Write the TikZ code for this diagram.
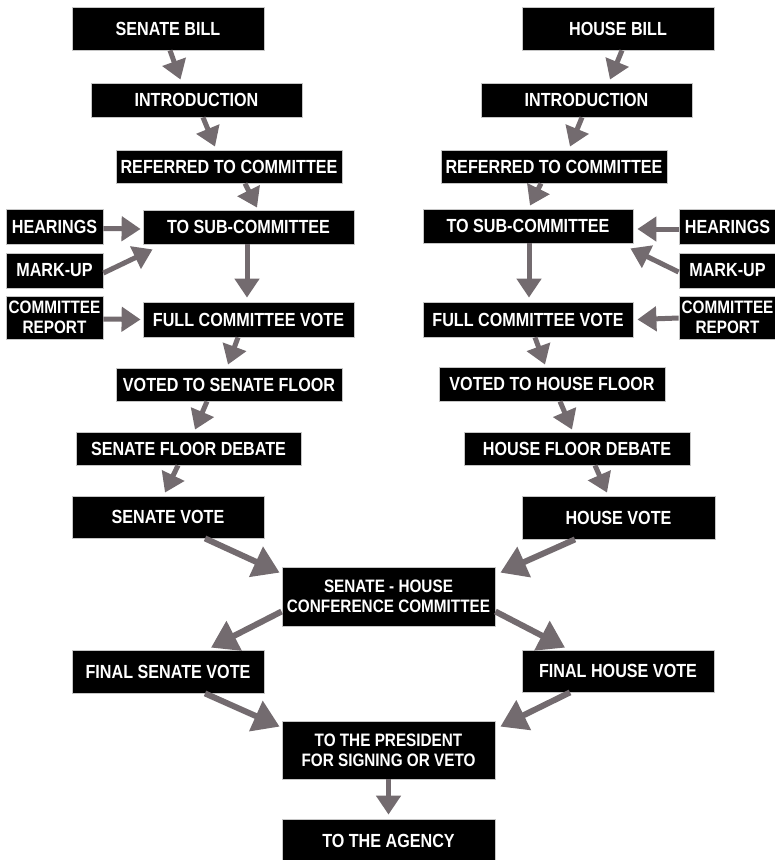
\documentclass[tikz,border=0pt]{standalone}
\usepackage{fontspec}
\setmainfont{Liberation Sans}[FakeStretch=0.85]
\usetikzlibrary{arrows.meta}
\definecolor{arrgray}{RGB}{115,107,111}
\tikzset{
  stage/.style={fill=black, draw=gray!45, line width=0.8pt, text=white, inner sep=0pt, align=center,
    font=\bfseries\fontsize{19}{20}\selectfont},
  twoline/.style={font=\bfseries\fontsize{18}{20}\selectfont},
  arr/.style={draw=arrgray, line width=5pt, -{Triangle[width=24pt,length=19pt]}},
  bigarr/.style={draw=arrgray, line width=6pt, -{Triangle[width=32pt,length=26pt]}},
}
\begin{document}
\begin{tikzpicture}[x=1pt,y=-1pt]
  \useasboundingbox (0,0) rectangle (775,860);

  % senate side
  \node[stage, minimum width=192, minimum height=43] (sbill) at (168,28.5) {SENATE BILL};
  \node[stage, minimum width=211, minimum height=34] (sintro) at (196.5,100) {INTRODUCTION};
  \node[stage, minimum width=226, minimum height=33] (sref) at (229,166.5) {REFERRED TO COMMITTEE};
  \node[stage, minimum width=211, minimum height=34] (ssub) at (248.5,227) {TO SUB-COMMITTEE};
  \node[stage, minimum width=97, minimum height=35] (shear) at (54.5,226.5) {HEARINGS};
  \node[stage, minimum width=97, minimum height=35] (smark) at (54.5,270.5) {MARK-UP};
  \node[stage, twoline, minimum width=97, minimum height=43] (srep) at (54.5,317.5) {COMMITTEE\\REPORT};
  \node[stage, minimum width=211, minimum height=35] (sfull) at (248.5,319.5) {FULL COMMITTEE VOTE};
  \node[stage, minimum width=226, minimum height=33] (sfloor) at (229,384.5) {VOTED TO SENATE FLOOR};
  \node[stage, minimum width=225, minimum height=33] (sdebate) at (188.5,448.5) {SENATE FLOOR DEBATE};
  \node[stage, minimum width=192, minimum height=42] (svote) at (168,517) {SENATE VOTE};
  \node[stage, minimum width=192, minimum height=43] (sfinal) at (168,671.5) {FINAL SENATE VOTE};

  % house side
  \node[stage, minimum width=192, minimum height=43] (hbill) at (618,28.5) {HOUSE BILL};
  \node[stage, minimum width=211, minimum height=34] (hintro) at (586.5,100) {INTRODUCTION};
  \node[stage, minimum width=226, minimum height=33] (href) at (554,166.5) {REFERRED TO COMMITTEE};
  \node[stage, minimum width=210, minimum height=34] (hsub) at (528,226) {TO SUB-COMMITTEE};
  \node[stage, minimum width=97, minimum height=35] (hhear) at (727.5,226.5) {HEARINGS};
  \node[stage, minimum width=97, minimum height=35] (hmark) at (727.5,270.5) {MARK-UP};
  \node[stage, twoline, minimum width=97, minimum height=43] (hrep) at (727.5,317.5) {COMMITTEE\\REPORT};
  \node[stage, minimum width=210, minimum height=35] (hfull) at (528,319.5) {FULL COMMITTEE VOTE};
  \node[stage, minimum width=226, minimum height=34] (hfloor) at (552,384) {VOTED TO HOUSE FLOOR};
  \node[stage, minimum width=226, minimum height=33] (hdebate) at (577,448.5) {HOUSE FLOOR DEBATE};
  \node[stage, minimum width=193, minimum height=43] (hvote) at (618.5,517.5) {HOUSE VOTE};
  \node[stage, minimum width=192, minimum height=42] (hfinal) at (618,671) {FINAL HOUSE VOTE};

  % joint
  \node[stage, twoline, minimum width=213, minimum height=59] (conf) at (388.5,596.5) {SENATE - HOUSE\\CONFERENCE COMMITTEE};
  \node[stage, twoline, minimum width=213, minimum height=58] (pres) at (388.5,750) {TO THE PRESIDENT\\FOR SIGNING OR VETO};
  \node[stage, minimum width=213, minimum height=43] (agency) at (388.5,840.5) {TO THE AGENCY};

  \draw[arr] ([xshift=2]sbill.south) -- ([xshift=-16,yshift=3]sintro.north);
  \draw[arr] ([xshift=6.5]sintro.south) -- ([xshift=-14,yshift=3]sref.north);
  \draw[arr] ([xshift=16]sref.south) -- ([xshift=8.5,yshift=2]ssub.north);
  \draw[arr] ([yshift=-2]shear.east) -- ([xshift=-2,yshift=-2]ssub.west);
  \draw[arr] ([yshift=-2.5]smark.east) -- ([xshift=10,yshift=-5]ssub.south west);
  \draw[arr] ([xshift=-1.5]ssub.south) -- ([xshift=-1.5,yshift=4]sfull.north);
  \draw[arr] ([yshift=-1.5]srep.east) -- ([xshift=-2]sfull.west);
  \draw[arr] ([xshift=-10.5]sfull.south) -- ([xshift=-1,yshift=3]sfloor.north);
  \draw[arr] ([xshift=-22]sfloor.south) -- ([xshift=6.5,yshift=2]sdebate.north);
  \draw[arr] ([xshift=-10.5]sdebate.south) -- ([xshift=-3,yshift=3]svote.north);
  \draw[bigarr] ([xshift=37]svote.south) -- ([xshift=-2,yshift=-6]conf.north west);
  \draw[bigarr] ([yshift=-15]conf.west) -- ([xshift=43,yshift=2]sfinal.north);
  \draw[bigarr] ([xshift=37]sfinal.south) -- ([xshift=-2,yshift=-6]pres.north west);

  \draw[arr] ([xshift=4]hbill.south) -- ([xshift=23.5,yshift=3]hintro.north);
  \draw[arr] ([xshift=-4.5]hintro.south) -- ([xshift=16,yshift=3]href.north);
  \draw[arr] ([xshift=-13]href.south) -- ([xshift=2,yshift=3]hsub.north);
  \draw[arr] ([yshift=-2.5]hhear.west) -- ([xshift=4,yshift=-3]hsub.east);
  \draw[arr] ([yshift=-1.5]hmark.west) -- ([xshift=-3,yshift=-5]hsub.south east);
  \draw[arr] ([xshift=1]hsub.south) -- ([xshift=1,yshift=4]hfull.north);
  \draw[arr] ([yshift=-0.5]hrep.west) -- ([xshift=4]hfull.east);
  \draw[arr] ([xshift=7]hfull.south) -- ([xshift=-7,yshift=2]hfloor.north);
  \draw[arr] ([xshift=8]hfloor.south) -- ([xshift=-5,yshift=2]hdebate.north);
  \draw[arr] ([xshift=18]hdebate.south) -- ([xshift=-11.5,yshift=3]hvote.north);
  \draw[bigarr] ([xshift=-43.5]hvote.south) -- ([xshift=5,yshift=-6]conf.north east);
  \draw[bigarr] ([yshift=-15]conf.east) -- ([xshift=-53,yshift=2]hfinal.north);
  \draw[bigarr] ([xshift=-48]hfinal.south) -- ([xshift=5,yshift=-6]pres.north east);

  \draw[arr] (pres.south) -- ([yshift=4]agency.north);
\end{tikzpicture}
\end{document}
